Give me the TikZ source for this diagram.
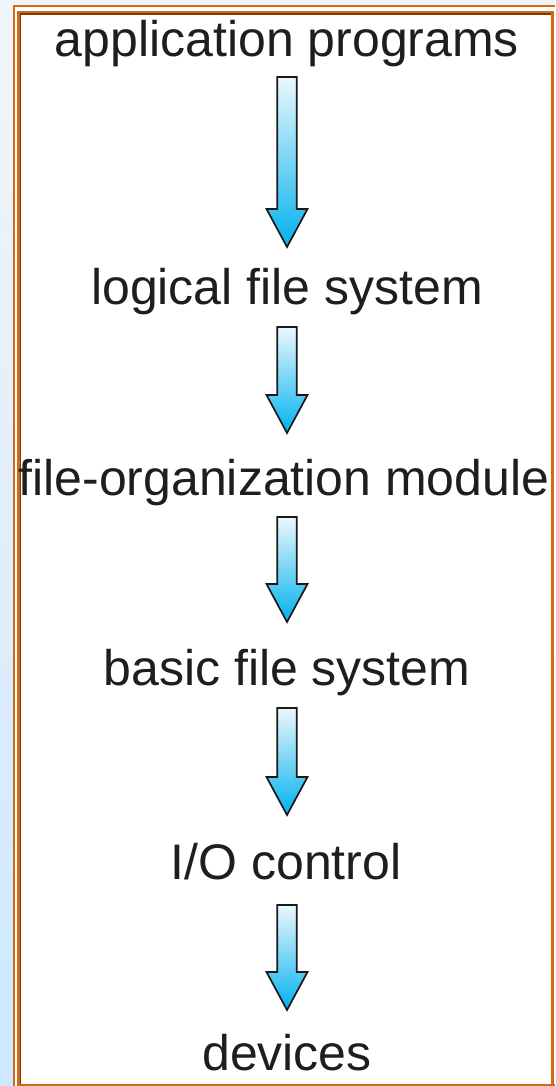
\documentclass[tikz,border=0pt]{standalone}
\usepackage{fontspec}
\setmainfont{Liberation Sans}
\usetikzlibrary{calc}
\definecolor{frameorange}{HTML}{D06A14}
\definecolor{framedark}{HTML}{7A3A08}
\definecolor{bgtop}{HTML}{F2F5F8}
\definecolor{bgbottom}{HTML}{CDE8FF}
\definecolor{arrowtop}{HTML}{ECF7FD}
\definecolor{arrowbottom}{HTML}{00B2EE}
\definecolor{textcol}{HTML}{1E1E1E}
\tikzset{
  label/.style={anchor=base, text=textcol, font=\fontsize{50}{60}\selectfont, inner sep=0pt},
  blockarrowstyle/.style={draw=black!90, line width=1.7pt, line join=miter, top color=arrowtop, bottom color=arrowbottom},
  orangeline/.style={draw=frameorange, line width=2.6pt},
}
\newcommand\blockarrow[2]{%
  \draw[blockarrowstyle] (#1) ++(-9.7,0) -- ++(19.4,0) |- ($(#2)+(20.5,-38)$) -- (#2) -- ($(#2)+(-20.5,-38)$) -| cycle;
}
\begin{document}
\begin{tikzpicture}[x=1pt,y=-1pt]
  % background and frame
  \shade[top color=bgtop, bottom color=bgbottom] (0,0) rectangle (555,1086);
  \fill[white] (15,7) rectangle (555,1086);
  \useasboundingbox (0,0) rectangle (555,1086);
  \draw[orangeline] (14,1086) -- (14,6) -- (555,6);
  \draw[orangeline] (18.2,1086) -- (18.2,12) -- (552.6,12) -- (552.6,1086);
  \draw[orangeline] (18,1084.8) -- (555,1084.8);
  \draw[draw=framedark, line width=1.6pt] (20.5,1083.5) -- (20.5,13.8) -- (551,13.8);
  % labels
  \node[label] (t1) at (287,57) {application programs};
  \node[label] (t2) at (287,304) {logical file system};
  \node[label] (t3) at (284,495) {file-organization module};
  \node[label] (t4) at (287,685) {basic file system};
  \node[label] (t5) at (286,879) {I/O control};
  \node[label] (t6) at (287,1070) {devices};
  % arrow endpoints
  \coordinate (a1s) at (287,77);  \coordinate (a1e) at (287,247);
  \coordinate (a2s) at (287,327); \coordinate (a2e) at (287,433);
  \coordinate (a3s) at (287,517); \coordinate (a3e) at (287,622);
  \coordinate (a4s) at (287,708); \coordinate (a4e) at (287,815);
  \coordinate (a5s) at (287,905); \coordinate (a5e) at (287,1010);
  \blockarrow{a1s}{a1e}
  \blockarrow{a2s}{a2e}
  \blockarrow{a3s}{a3e}
  \blockarrow{a4s}{a4e}
  \blockarrow{a5s}{a5e}
\end{tikzpicture}
\end{document}
